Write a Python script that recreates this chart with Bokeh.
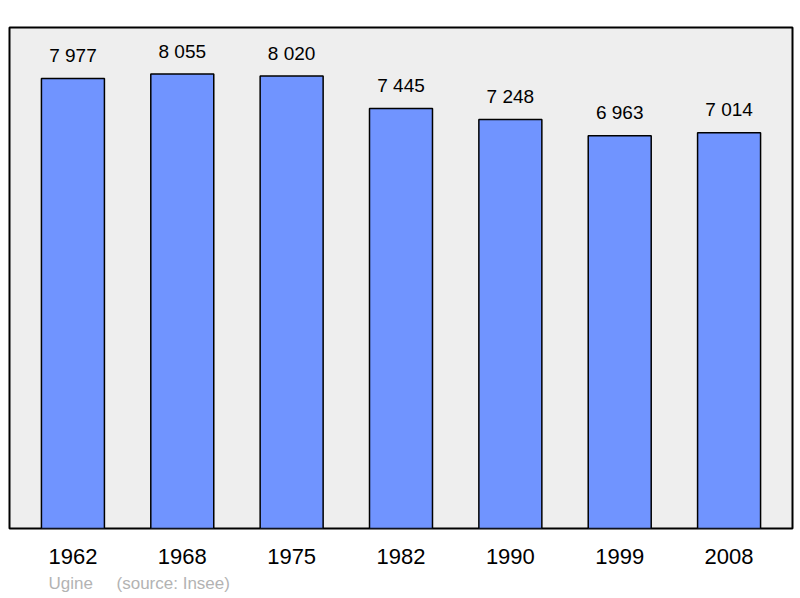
from bokeh.plotting import figure
from bokeh.models import FactorRange, Range1d, Title, ColumnDataSource
from bokeh.core.properties import value
from bokeh.embed import file_html
from bokeh.resources import INLINE

years = ["1962", "1968", "1975", "1982", "1990", "1999", "2008"]
population = [7977, 8055, 8020, 7445, 7248, 6963, 7014]
labels = ["7 977", "8 055", "8 020", "7 445", "7 248", "6 963", "7 014"]

src = ColumnDataSource(dict(x=years, top=population, label=labels))

p = figure(width=800, height=598, output_backend="svg", toolbar_location=None,
           x_range=FactorRange(factors=years, range_padding=0.08, range_padding_units="absolute"),
           y_range=Range1d(0, 8880),
           min_border_left=9, min_border_right=8, min_border_top=27, min_border_bottom=70)

p.background_fill_color = "#eeeeee"
p.border_fill_color = "white"
p.outline_line_color = "black"
p.outline_line_width = 2
p.xgrid.visible = False
p.ygrid.visible = False
p.yaxis.visible = False

p.vbar(x="x", top="top", bottom=0, width=0.576, source=src,
       fill_color="#7094ff", line_color="black", line_width=1.5)

p.text(x="x", y="top", text="label", source=src, text_align="center",
       text_baseline="alphabetic", y_offset=-23, text_font_size="19px",
       text_font=value("Liberation Sans"), text_color="black")

ax = p.xaxis[0]
ax.axis_line_color = None
ax.major_tick_line_color = None
ax.minor_tick_line_color = None
ax.major_tick_out = 0
ax.major_tick_in = 0
ax.major_label_standoff = 20
ax.major_label_text_font = "Liberation Sans"
ax.major_label_text_font_size = "22px"
ax.major_label_text_color = "black"

footer = Title(text="Ugine\u00a0\u00a0\u00a0\u00a0\u00a0(source: Insee)", align="left", offset=39,
               text_font="Liberation Sans", text_font_size="17px", text_font_style="normal",
               text_color="#b3b3b3", standoff=10)
p.add_layout(footer, "below")

open("out.html", "w").write(file_html(p, INLINE))
